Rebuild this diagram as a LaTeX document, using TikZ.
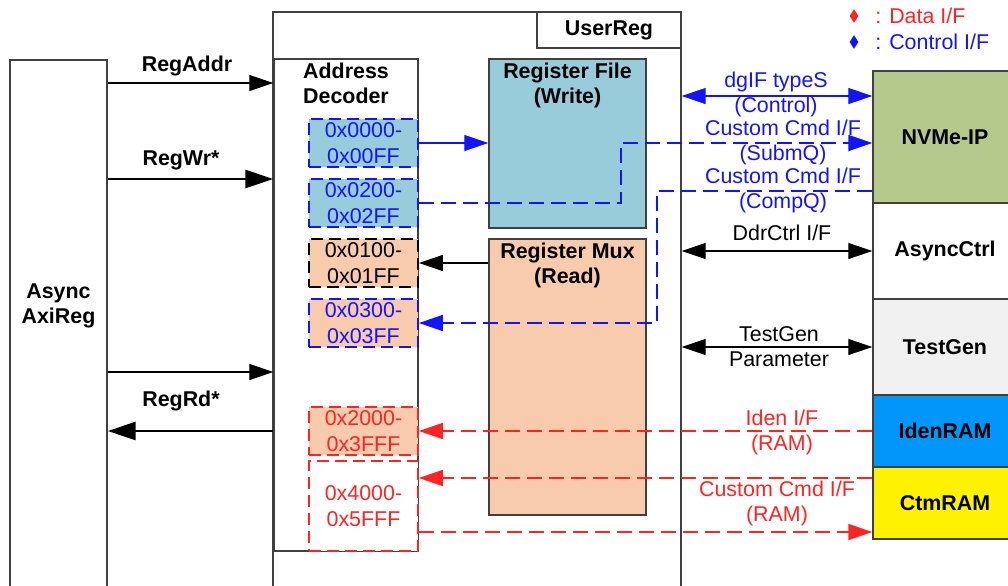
\documentclass[tikz,border=0pt]{standalone}
\usepackage{fontspec}
\setmainfont{Liberation Sans}
\usepackage{xcolor}
\usepackage{tikz}
\usetikzlibrary{shapes.geometric, arrows.meta}
\definecolor{wrblue}{RGB}{153,204,219}
\definecolor{rdpeach}{RGB}{248,203,173}
\definecolor{nvmegreen}{RGB}{181,201,140}
\definecolor{idenblue}{RGB}{0,150,250}
\definecolor{tggray}{RGB}{240,240,240}
\definecolor{ifblue}{RGB}{20,20,250}
\definecolor{ifred}{RGB}{255,35,35}
\definecolor{boxline}{RGB}{64,64,64}
\tikzstyle{block} = [rectangle, draw=boxline, line width=0.7pt, inner sep=0pt]
\tikzstyle{title} = [align=center, font=\fontsize{10.7}{12.5}\selectfont\bfseries, inner sep=1pt]
\tikzstyle{lbl} = [align=center, font=\fontsize{10.7}{12.5}\selectfont, inner sep=0pt]
\tikzstyle{rng} = [rectangle, dash pattern=on 6pt off 3pt, line width=0.9pt, align=center, minimum width=54.5pt, minimum height=24pt, font=\fontsize{10.7}{13}\selectfont, inner sep=0pt]
\tikzstyle{keydot} = [diamond, inner sep=0pt, minimum width=4.5pt, minimum height=7pt]
\tikzstyle{connector} = [draw, line width=0.6pt, -{Triangle[length=12pt, width=8pt]}]
\tikzstyle{bus} = [draw, line width=1.3pt, -{Triangle[length=14pt, width=9pt]}]
\tikzstyle{both} = [draw, line width=0.6pt, {Triangle[length=12pt, width=8pt]}-{Triangle[length=12pt, width=8pt]}]
\tikzstyle{dashline} = [draw, line width=0.9pt, dash pattern=on 7.5pt off 3.5pt, -{Triangle[length=12pt, width=8pt]}]

\begin{document}
\begin{tikzpicture}[x=0.5pt, y=-0.5pt]
        \useasboundingbox (0,0) rectangle (1008,585);
        % left and middle blocks
        \node [block, minimum width=48.5pt, minimum height=280pt] (axireg) at (58.5,340) {};
        \node [title] (axitxt) at (58.5,306) {Async\\AxiReg};
        \node [block, minimum width=204pt, minimum height=304pt] (userreg) at (477,316) {};
        \node [block, title, minimum width=72pt, minimum height=18pt] (usrtitle) at (609,30) {UserReg};
        \node [block, minimum width=72pt, minimum height=246pt] (decoder) at (346,305) {};
        \node [title, below=1.2pt] (dectitle) at (decoder.north) {Address\\Decoder};
        \node [block, fill=wrblue, minimum width=78.5pt, minimum height=84.5pt] (regfile) at (567.5,143.5) {};
        \node [title, below=1.2pt] (wrtitle) at (regfile.north) {Register File\\(Write)};
        \node [block, fill=rdpeach, minimum width=78.5pt, minimum height=138pt] (regmux) at (567.5,377) {};
        \node [title, below=1.2pt] (rdtitle) at (regmux.north) {Register Mux\\(Read)};

        % address ranges
        \node [rng, draw=ifblue, fill=wrblue, text=ifblue] (r0000) at (363.5,143) {0x0000-\\0x00FF};
        \node [rng, draw=ifblue, fill=wrblue, text=ifblue] (r0200) at (363.5,203) {0x0200-\\0x02FF};
        \node [rng, draw=black, fill=rdpeach] (r0100) at (363.5,263) {0x0100-\\0x01FF};
        \node [rng, draw=ifblue, fill=rdpeach, text=ifblue] (r0300) at (363.5,323) {0x0300-\\0x03FF};
        \node [rng, draw=ifred, fill=rdpeach, text=ifred] (r2000) at (363.5,431) {0x2000-\\0x3FFF};
        \node [rng, draw=ifred, fill=white, text=ifred, minimum height=45pt] (r4000) at (363.5,506) {0x4000-\\0x5FFF};

        % right blocks
        \node [block, title, fill=nvmegreen, minimum width=72pt, minimum height=66pt] (nvme) at (945,137) {NVMe-IP};
        \node [block, title, fill=white, minimum width=72pt, minimum height=48pt] (asyncctrl) at (945,251) {AsyncCtrl};
        \node [block, title, fill=tggray, minimum width=72pt, minimum height=48pt] (testgen) at (945,347) {TestGen};
        \node [block, title, fill=idenblue, minimum width=72pt, minimum height=36pt] (idenram) at (945,431) {IdenRAM};
        \node [block, title, fill=yellow, minimum width=72pt, minimum height=36pt] (ctmram) at (945,503) {CtmRAM};

        % legend
        \node [keydot, fill=ifred] (datakey) at (854,16) {};
        \node [lbl, text=ifred, anchor=west] (datatxt) at (875,16) {: Data I/F};
        \node [keydot, fill=ifblue] (ctrlkey) at (854,42) {};
        \node [lbl, text=ifblue, anchor=west] (ctrltxt) at (875,42) {: Control I/F};

        % labels
        \node [title] (addrlbl) at (187,66) {RegAddr};
        \node [title] (wrlbl) at (181,160) {RegWr*};
        \node [title] (rdlbl) at (181,401) {RegRd*};
        \node [lbl, text=ifblue] (dglbl) at (776,94.5) {dgIF typeS\\(Control)};
        \node [lbl, text=ifblue] (submlbl) at (783,142.5) {Custom Cmd I/F\\(SubmQ)};
        \node [lbl, text=ifblue] (complbl) at (783,190.5) {Custom Cmd I/F\\(CompQ)};
        \node [lbl] (ddrlbl) at (782,233) {DdrCtrl I/F};
        \node [lbl] (tglbl) at (779,346.5) {TestGen\\Parameter};
        \node [lbl, text=ifred] (idenlbl) at (782,432.5) {Iden I/F\\(RAM)};
        \node [lbl, text=ifred] (ctmlbl) at (777,503.5) {Custom Cmd I/F\\(RAM)};

        \coordinate (submq) at (621,143);
        \coordinate (compq) at (657,323);

        \path [connector] (axireg.east |- 0,83) -- (decoder.west |- 0,83);
        \path [bus] (axireg.east |- 0,179) -- (decoder.west |- 0,179);
        \path [connector] (axireg.east |- 0,372) -- (decoder.west |- 0,372);
        \path [bus] (decoder.west |- 0,431) -- (axireg.east |- 0,431);
        \path [connector, ifblue] (r0000.east) -- (regfile.west |- r0000.east);
        \path [dashline, ifblue] (r0200.east) -| (submq) -- (nvme.west |- submq);
        \path [dashline, ifblue] (nvme.west |- 0,191) -| (compq) -- (r0300.east);
        \path [both, ifblue] (userreg.east |- 0,96) -- (nvme.west |- 0,96);
        \path [connector] (regmux.west |- r0100.east) -- (r0100.east);
        \path [both] (userreg.east |- asyncctrl.west) -- (asyncctrl.west);
        \path [both] (userreg.east |- testgen.west) -- (testgen.west);
        \path [dashline, ifred] (idenram.west) -- (r2000.east);
        \path [dashline, ifred] (ctmram.west |- 0,478) -- (r4000.east |- 0,478);
        \path [dashline, ifred] (r4000.east |- 0,532) -- (ctmram.west |- 0,532);
    \end{tikzpicture}
\end{document}
